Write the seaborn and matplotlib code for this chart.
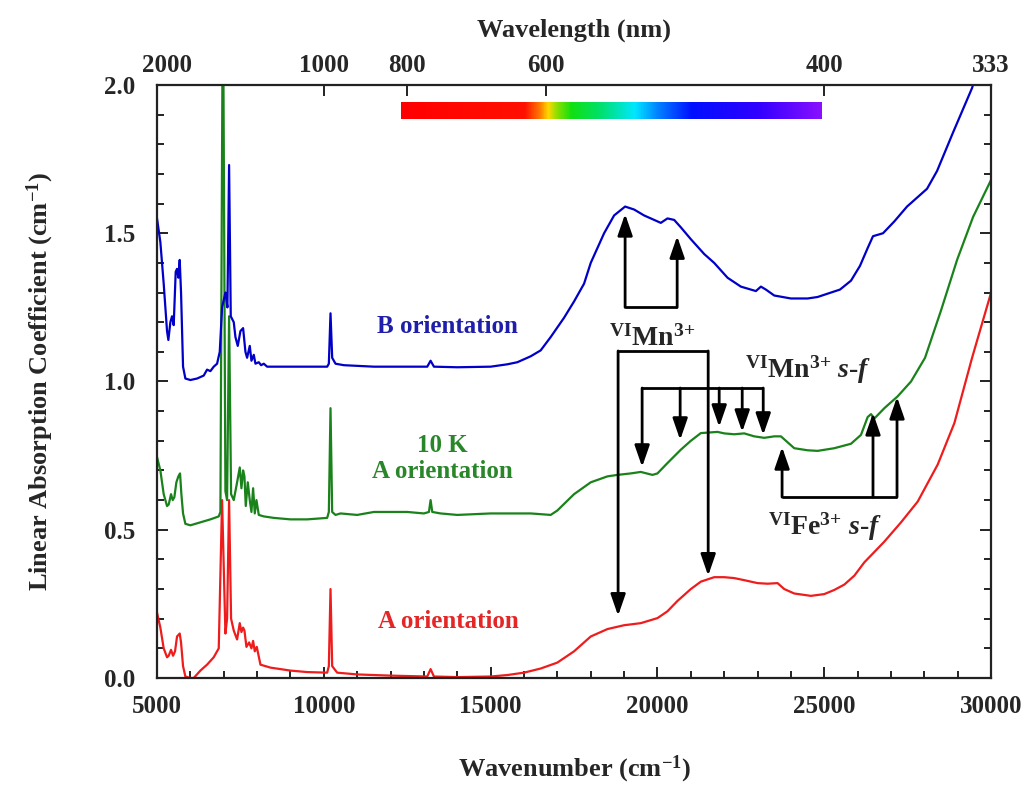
import numpy as np
import pandas as pd
import matplotlib
matplotlib.use('Agg')
import matplotlib.pyplot as plt
import matplotlib.transforms as mtransforms
from matplotlib.colors import LinearSegmentedColormap
from matplotlib.ticker import MultipleLocator
import seaborn as sns

# ---- data (wavenumber cm-1, absorption cm-1) ----
b_wn = [5000, 5100, 5200, 5300, 5340, 5400, 5450, 5500, 5560, 5600, 5640, 5680, 5720, 5780,
        5850, 6000, 6200, 6400, 6500, 6600, 6700, 6800, 6880, 6950, 7050, 7110, 7160, 7210,
        7300, 7350, 7420, 7500, 7580, 7650, 7700, 7780, 7830, 7900, 7950, 8050, 8120, 8200,
        8300, 9000, 10100, 10150, 10200, 10250, 10350, 10600, 11500, 12500, 13100, 13200,
        13300, 14000, 15000, 15500, 15800, 16200, 16500, 16800, 17200, 17500, 17800, 18000,
        18400, 18700, 19030, 19300, 19600, 19900, 20100, 20300, 20500, 20700, 21000, 21400,
        21700, 22100, 22500, 22800, 22950, 23100, 23250, 23500, 24000, 24500, 24800, 25200,
        25470, 25800, 26070, 26300, 26460, 26760, 27100, 27480, 28080, 28380, 28860, 29430,
        30000]
b_abs = [1.55, 1.47, 1.33, 1.17, 1.14, 1.20, 1.22, 1.19, 1.37, 1.38, 1.35, 1.41, 1.30, 1.05,
         1.01, 1.005, 1.01, 1.02, 1.04, 1.035, 1.05, 1.06, 1.10, 1.25, 1.30, 1.25, 1.73, 1.22,
         1.20, 1.15, 1.12, 1.17, 1.18, 1.10, 1.08, 1.12, 1.07, 1.09, 1.06, 1.065, 1.055, 1.06,
         1.05, 1.05, 1.05, 1.06, 1.23, 1.08, 1.06, 1.055, 1.05, 1.05, 1.05, 1.07,
         1.05, 1.048, 1.05, 1.058, 1.065, 1.085, 1.105, 1.15, 1.215, 1.27, 1.33, 1.40,
         1.50, 1.56, 1.59, 1.58, 1.56, 1.545, 1.535, 1.55, 1.545, 1.52, 1.48, 1.43,
         1.40, 1.35, 1.32, 1.31, 1.305, 1.32, 1.31, 1.29, 1.28, 1.28, 1.285, 1.30,
         1.31, 1.34, 1.39, 1.45, 1.49, 1.50, 1.54, 1.59, 1.65, 1.71, 1.84, 1.99,
         2.20]

g_wn = [5000, 5100, 5200, 5300, 5350, 5420, 5470, 5520, 5580, 5640, 5690, 5730, 5780, 5850,
        6000, 6300, 6600, 6850, 6900, 6975, 7050, 7100, 7160, 7220, 7300, 7400, 7480, 7530,
        7580, 7620, 7660, 7720, 7780, 7830, 7880, 7930, 7980, 8050, 8200, 8500, 9000, 9500,
        10100, 10150, 10200, 10250, 10350, 10500, 11000, 11500, 12000, 12500, 13000, 13150,
        13200, 13250, 13500, 14000, 15000, 16200, 16800, 17000, 17500, 18000, 18500, 18800,
        19200, 19500, 19850, 20000, 20300, 20700, 21000, 21300, 21800, 22000, 22300, 22600,
        22900, 23200, 23500, 23700, 23900, 24100, 24500, 24800, 25300, 25800, 26100, 26300,
        26400, 26500, 26800, 27200, 27600, 28020, 28500, 28980, 29460, 30000]
g_abs = [0.745, 0.70, 0.62, 0.58, 0.585, 0.62, 0.60, 0.61, 0.66, 0.68, 0.69, 0.62, 0.555, 0.52,
         0.515, 0.525, 0.535, 0.545, 0.56, 2.40, 0.63, 0.60, 1.22, 0.62, 0.60, 0.66, 0.71, 0.64,
         0.70, 0.68, 0.58, 0.66, 0.60, 0.56, 0.64, 0.555, 0.60, 0.55, 0.545, 0.54, 0.535, 0.535,
         0.54, 0.56, 0.91, 0.56, 0.55, 0.555, 0.55, 0.56, 0.56, 0.56, 0.555, 0.56,
         0.60, 0.56, 0.555, 0.55, 0.555, 0.555, 0.55, 0.565, 0.62, 0.66, 0.68, 0.685,
         0.69, 0.695, 0.685, 0.69, 0.725, 0.77, 0.80, 0.826, 0.83, 0.825, 0.822, 0.825,
         0.815, 0.81, 0.815, 0.815, 0.795, 0.775, 0.768, 0.766, 0.775, 0.79, 0.82, 0.88,
         0.89, 0.875, 0.91, 0.95, 1.00, 1.08, 1.24, 1.41, 1.555, 1.68]

r_wn = [5000, 5100, 5200, 5300, 5350, 5420, 5480, 5540, 5600, 5680, 5720, 5780, 5850, 6000,
        6100, 6300, 6500, 6700, 6850, 6950, 7050, 7100, 7160, 7220, 7300, 7400, 7480, 7530,
        7580, 7620, 7680, 7760, 7830, 7880, 7930, 7990, 8100, 8400, 9000, 9500, 10100, 10150,
        10200, 10250, 10400, 11000, 12000, 13100, 13200, 13300, 14000, 15000, 15500, 16000,
        16500, 17000, 17500, 18000, 18500, 19000, 19500, 20000, 20300, 20600, 21000, 21300,
        21700, 22000, 22300, 22600, 23000, 23300, 23600, 23800, 24100, 24600, 25000, 25300,
        25600, 25900, 26200, 26500, 26800, 27300, 27800, 28400, 28900, 29430, 30000]
r_abs = [0.22, 0.17, 0.10, 0.07, 0.075, 0.095, 0.075, 0.09, 0.14, 0.15, 0.12, 0.04, 0.005, 0.0,
         0.0, 0.025, 0.045, 0.07, 0.10, 0.60, 0.15, 0.20, 0.60, 0.20, 0.16, 0.13, 0.185, 0.155,
         0.17, 0.16, 0.105, 0.12, 0.10, 0.125, 0.09, 0.105, 0.045, 0.035, 0.025, 0.02, 0.018, 0.04,
         0.30, 0.04, 0.018, 0.012, 0.008, 0.005, 0.03, 0.005, 0.003, 0.005, 0.01, 0.018,
         0.032, 0.052, 0.09, 0.14, 0.165, 0.178, 0.185, 0.202, 0.225, 0.26, 0.30, 0.325,
         0.34, 0.34, 0.337, 0.33, 0.32, 0.318, 0.32, 0.30, 0.285, 0.277, 0.283, 0.297,
         0.315, 0.345, 0.39, 0.425, 0.46, 0.525, 0.595, 0.72, 0.86, 1.08, 1.30]

# top axis: wavelength ticks (nm)
wl_ticks = [2000, 1000, 800, 600, 400, 333.33]
wl_labels = ['2000', '1000', '800', '600', '400', '333']

# visible spectrum bar: wavenumber stops and colours
bar_wn = [12300, 16000, 16450, 16700, 17000, 17400, 18300, 19300, 20000, 21000, 23000, 24900]
bar_col = ['#ff0000', '#ff1000', '#ff7a00', '#ffd800', '#80e000', '#10e010', '#00e070',
           '#00e8ff', '#0080ff', '#0010ff', '#3000ff', '#8a10ff']

# annotation arrows (wavenumber, absorption)
mn_up_x = [19030, 20590]
mn_up_tip = [1.565, 1.49]
mn_up_base = 1.25
mn_dn_x = [18820, 21520]
mn_dn_tip = [0.21, 0.345]
mn_dn_top = 1.103
sf_x = [19540, 20680, 21850, 22540, 23170]
sf_tip = [0.712, 0.803, 0.847, 0.830, 0.820]
sf_top = 0.978
fe_x = [23735, 26460, 27180]
fe_tip = [0.779, 0.894, 0.948]
fe_base = 0.61

blue, green, red = '#0000c8', '#1a821a', '#ee1c1c'

sns.set_theme(style='ticks')
plt.rcParams['font.family'] = ['Liberation Serif', 'DejaVu Serif']
plt.rcParams['font.weight'] = 'bold'
plt.rcParams['mathtext.fontset'] = 'custom'
plt.rcParams['mathtext.rm'] = 'Liberation Serif:bold'
plt.rcParams['mathtext.bf'] = 'Liberation Serif:bold'
plt.rcParams['mathtext.it'] = 'Liberation Serif:italic:bold'
plt.rcParams['mathtext.default'] = 'rm'

fig = plt.figure(figsize=(10.31, 7.87), dpi=100)
ax = fig.add_axes([0.1523, 0.1385, 0.809, 0.7535])

for wn, ab, c in [(r_wn, r_abs, red), (g_wn, g_abs, green), (b_wn, b_abs, blue)]:
    df = pd.DataFrame({'wn': wn, 'abs': ab})
    sns.lineplot(data=df, x='wn', y='abs', ax=ax, color=c, lw=1.6,
                 estimator=None, sort=False)

ax.set_xlim(5000, 30000)
ax.set_ylim(0, 2.0)

# spectrum bar
cmap = LinearSegmentedColormap.from_list(
    'vis', list(zip((np.array(bar_wn) - bar_wn[0]) / (bar_wn[-1] - bar_wn[0]), bar_col)))
grad = np.linspace(0, 1, 512)[None, :]
ax.imshow(grad, cmap=cmap, aspect='auto', extent=[bar_wn[0], bar_wn[-1], 1.885, 1.94],
          zorder=3)
ax.set_xlim(5000, 30000)
ax.set_ylim(0, 2.0)

# axes styling
ax.xaxis.set_major_locator(MultipleLocator(5000))
ax.xaxis.set_minor_locator(MultipleLocator(1000))
ax.yaxis.set_major_locator(MultipleLocator(0.5))
ax.yaxis.set_minor_locator(MultipleLocator(0.1))
ax.yaxis.set_major_formatter(plt.FormatStrFormatter('%.1f'))
ax.tick_params(which='both', direction='in', top=False, right=True, width=1.4,
               color='#222222', labelsize=18)
ax.tick_params(which='major', length=8)
ax.tick_params(which='minor', length=5)
ax.tick_params(axis='x', pad=12)
ax.tick_params(axis='y', pad=16)
for s in ax.spines.values():
    s.set_linewidth(1.6)
    s.set_color('#222222')
ax.set_xlabel('Wavenumber (cm$^{-1}$)', fontsize=19, fontweight='bold', labelpad=26)
ax.set_ylabel('Linear Absorption Coefficient (cm$^{-1}$)', fontsize=19, fontweight='bold',
              labelpad=34)

ax2 = ax.twiny()
ax2.set_xlim(ax.get_xlim())
ax2.set_xticks(1e7 / np.array(wl_ticks))
ax2.set_xticklabels(wl_labels)
ax2.tick_params(direction='in', length=8, width=1.4, color='#222222', labelsize=18, pad=6)
ax2.set_xlabel('Wavelength (nm)', fontsize=19, fontweight='bold', labelpad=12)
lbl = ax2.get_xticklabels()[0]
lbl.set_transform(lbl.get_transform() + mtransforms.ScaledTranslation(0.1, 0, fig.dpi_scale_trans))
for s in ax2.spines.values():
    s.set_visible(False)

# curve labels
ax.text(13690, 1.184, 'B orientation', color='#1e1eaa', fontsize=18, fontweight='bold',
        ha='center', va='center')
ax.text(13560, 0.74, '10 K\nA orientation', color='#2a862a', fontsize=18, fontweight='bold',
        ha='center', va='center', linespacing=1.15)
ax.text(13720, 0.189, 'A orientation', color='#e42626', fontsize=18, fontweight='bold',
        ha='center', va='center')

arrow = dict(arrowstyle='-|>,head_length=1.3,head_width=0.45', lw=2, color='black',
             shrinkA=0, shrinkB=0, mutation_scale=10)
kw = dict(color='black', lw=2, solid_capstyle='butt')
mn_txt = r'$^{VI}$Mn$^{3{+}}$'
fe_txt = r'$^{VI}$Fe$^{3{+}}$'
sf_txt = r' $\mathit{s}$-$\mathit{f}$'

# VI Mn3+ upward (B orientation)
ax.plot([mn_up_x[0], mn_up_x[1]], [mn_up_base, mn_up_base], **kw)
for x, t in zip(mn_up_x, mn_up_tip):
    ax.annotate('', xy=(x, t), xytext=(x, mn_up_base), arrowprops=arrow)
ax.text(19850, 1.12, mn_txt, fontsize=20, ha='center', va='baseline')

# VI Mn3+ downward (A orientation)
ax.plot([mn_dn_x[0], mn_dn_x[1]], [mn_dn_top, mn_dn_top], **kw)
for x, t in zip(mn_dn_x, mn_dn_tip):
    ax.annotate('', xy=(x, t), xytext=(x, mn_dn_top), arrowprops=arrow)

# VI Mn3+ s-f (10 K)
ax.plot([sf_x[0], sf_x[-1]], [sf_top, sf_top], **kw)
for x, t in zip(sf_x, sf_tip):
    ax.annotate('', xy=(x, t), xytext=(x, sf_top), arrowprops=arrow)
ax.text(22630, 1.012, mn_txt + sf_txt, fontsize=20, ha='left', va='baseline')

# VI Fe3+ s-f (10 K)
ax.plot([fe_x[0], fe_x[-1]], [fe_base, fe_base], **kw)
for x, t in zip(fe_x, fe_tip):
    ax.annotate('', xy=(x, t), xytext=(x, fe_base), arrowprops=arrow)
ax.text(23315, 0.482, fe_txt + sf_txt, fontsize=20, ha='left', va='baseline')

fig.savefig('out.png', dpi=100)
